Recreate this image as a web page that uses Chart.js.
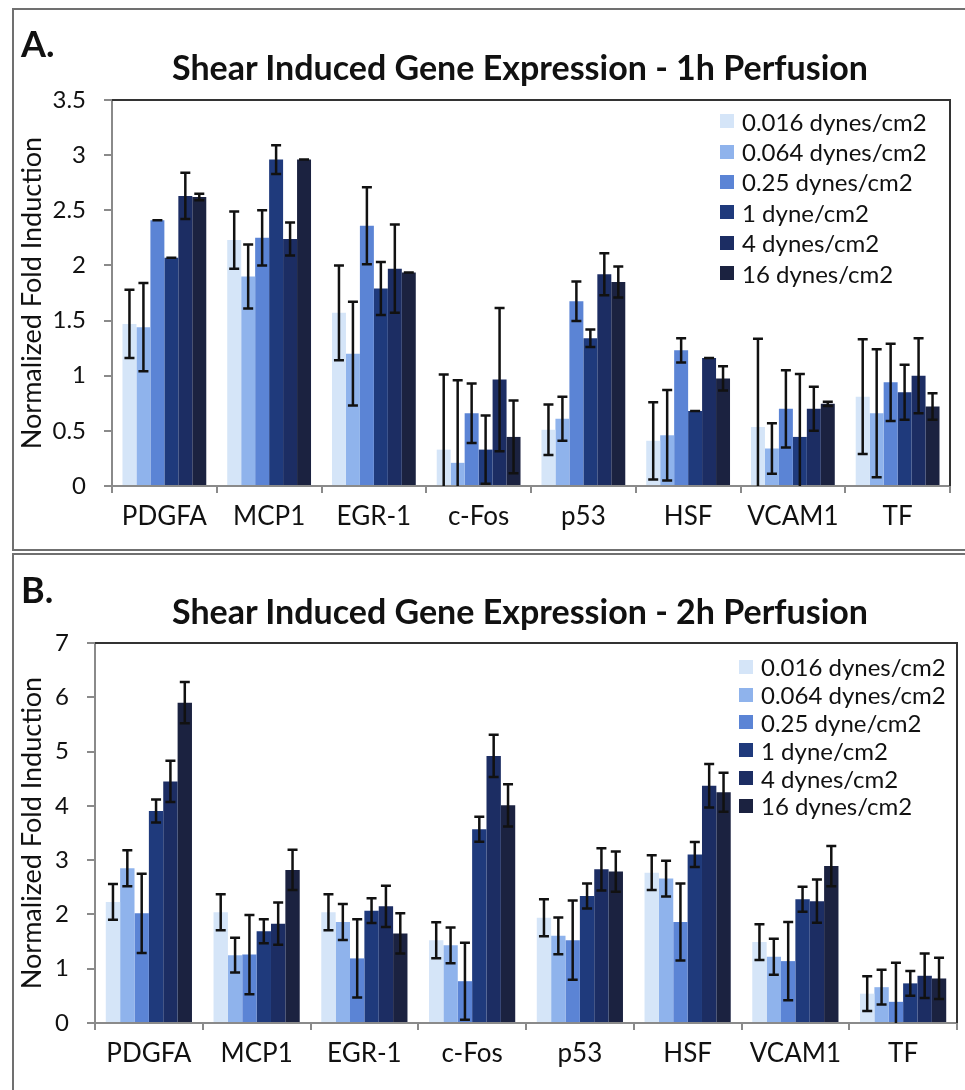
<!DOCTYPE html>
<html>
<head>
<meta charset="utf-8">
<script src="https://cdn.jsdelivr.net/npm/chart.js@4"></script>
<style>
  body { margin: 0; background: #fff; width: 965px; height: 1090px; overflow: hidden; position: relative; font-family: Lato, sans-serif; color: #111; }
  .panel { position: absolute; left: 12px; width: 960px; border: 2px solid #707070; box-sizing: border-box; }
  #panelA { top: 8px; height: 543px; }
  #panelB { top: 553px; height: 545px; }
  .panel canvas { position: absolute; left: 0; top: 0; }
  .tag { position: absolute; font-weight: bold; font-size: 36px; line-height: 1; }
  .title { position: absolute; font-weight: bold; font-size: 34px; line-height: 1; white-space: nowrap; text-align: center; }
  .legend { position: absolute; font-size: 24px; }
  .legend .row { display: flex; align-items: center; white-space: nowrap; }
  .legend .sw { width: 14px; height: 14px; margin-right: 8px; flex: none; }
</style>
</head>
<body>
<div class="panel" id="panelA"><canvas id="chartA" width="951" height="539"></canvas></div>
<div class="panel" id="panelB"><canvas id="chartB" width="951" height="535"></canvas></div>
<div class="tag" style="left:21px;top:25px">A.</div>
<div class="title" style="left:120px;width:800px;top:50px">Shear Induced Gene Expression - 1h Perfusion</div>
<div class="tag" style="left:21px;top:571px">B.</div>
<div class="title" style="left:120px;width:800px;top:594px">Shear Induced Gene Expression - 2h Perfusion</div>
<div class="legend" id="legendA" style="left:720px;top:106px"></div>
<div class="legend" id="legendB" style="left:739px;top:653px"></div>

<script>
// genes on the x axis
const genes = ['PDGFA', 'MCP1', 'EGR-1', 'c-Fos', 'p53', 'HSF', 'VCAM1', 'TF'];

// shear stress levels (legend labels)
const labels1h = ['0.016 dynes/cm2', '0.064 dynes/cm2', '0.25 dynes/cm2', '1 dyne/cm2', '4 dynes/cm2', '16 dynes/cm2'];
const labels2h = ['0.016 dynes/cm2', '0.064 dynes/cm2', '0.25 dyne/cm2', '1 dyne/cm2', '4 dynes/cm2', '16 dynes/cm2'];

// 1h perfusion - mean fold induction
const h1_0016 = [1.47, 2.23, 1.57, 0.33, 0.51, 0.41, 0.535, 0.81];
const h1_0064 = [1.44, 1.90, 1.20, 0.21, 0.61, 0.46, 0.34, 0.66];
const h1_025  = [2.41, 2.25, 2.36, 0.66, 1.675, 1.23, 0.70, 0.94];
const h1_1    = [2.07, 2.96, 1.79, 0.33, 1.34, 0.68, 0.445, 0.85];
const h1_4    = [2.63, 2.24, 1.97, 0.965, 1.92, 1.16, 0.70, 1.00];
const h1_16   = [2.62, 2.96, 1.935, 0.445, 1.85, 0.975, 0.745, 0.72];
// 1h perfusion - error
const h1_0016_err = [0.31, 0.26, 0.43, 0.68, 0.23, 0.35, 0.80, 0.52];
const h1_0064_err = [0.40, 0.29, 0.47, 0.75, 0.20, 0.41, 0.23, 0.58];
const h1_025_err  = [0.00, 0.25, 0.35, 0.27, 0.18, 0.11, 0.35, 0.35];
const h1_1_err    = [0.00, 0.13, 0.24, 0.31, 0.08, 0.00, 0.57, 0.25];
const h1_4_err    = [0.21, 0.15, 0.40, 0.65, 0.19, 0.00, 0.20, 0.34];
const h1_16_err   = [0.03, 0.00, 0.00, 0.33, 0.14, 0.11, 0.02, 0.12];

// 2h perfusion - mean fold induction
const h2_0016 = [2.23, 2.04, 2.04, 1.525, 1.94, 2.77, 1.49, 0.54];
const h2_0064 = [2.85, 1.25, 1.86, 1.43, 1.605, 2.66, 1.22, 0.66];
const h2_025  = [2.02, 1.26, 1.19, 0.77, 1.525, 1.86, 1.14, 0.39];
const h2_1    = [3.905, 1.69, 2.07, 3.57, 2.34, 3.105, 2.28, 0.73];
const h2_4    = [4.45, 1.83, 2.15, 4.92, 2.83, 4.37, 2.245, 0.87];
const h2_16   = [5.90, 2.82, 1.65, 4.01, 2.79, 4.25, 2.89, 0.82];
// 2h perfusion - error
const h2_0016_err = [0.33, 0.33, 0.33, 0.33, 0.34, 0.32, 0.33, 0.32];
const h2_0064_err = [0.33, 0.32, 0.33, 0.33, 0.34, 0.33, 0.33, 0.32];
const h2_025_err  = [0.73, 0.73, 0.72, 0.71, 0.73, 0.71, 0.72, 0.72];
const h2_1_err    = [0.21, 0.22, 0.23, 0.23, 0.23, 0.23, 0.23, 0.23];
const h2_4_err    = [0.38, 0.39, 0.38, 0.39, 0.39, 0.40, 0.40, 0.41];
const h2_16_err   = [0.38, 0.37, 0.37, 0.39, 0.37, 0.36, 0.37, 0.38];

const barColors = ['#d5e5f8', '#8fb3ec', '#5b84d5', '#1f3a7c', '#1c2d63', '#1b2240'];
const axisGray = '#8a8a8a';

// draws the error bars on top of each bar
const errorBars = {
    id: 'errorBars',
    afterDatasetsDraw(chart) {
        const ctx = chart.ctx;
        const y = chart.scales.y;
        ctx.save();
        ctx.strokeStyle = '#111';
        ctx.lineWidth = 2.5;
        chart.data.datasets.forEach((ds, i) => {
            chart.getDatasetMeta(i).data.forEach((bar, j) => {
                const v = ds.data[j], e = ds.errors[j];
                const top = y.getPixelForValue(v + e);
                const low = v - e;
                const bot = y.getPixelForValue(Math.max(low, 0));
                ctx.beginPath();
                ctx.moveTo(bar.x, top); ctx.lineTo(bar.x, bot);
                ctx.moveTo(bar.x - 5, top); ctx.lineTo(bar.x + 5, top);
                if (low > 0) { ctx.moveTo(bar.x - 5, bot); ctx.lineTo(bar.x + 5, bot); }
                ctx.stroke();
            });
        });
        ctx.restore();
    }
};

// top and right edges of the plot box
const plotFrame = {
    id: 'plotFrame',
    afterDraw(chart) {
        const a = chart.chartArea, ctx = chart.ctx;
        ctx.save();
        ctx.strokeStyle = '#333';
        ctx.lineWidth = 2;
        ctx.beginPath();
        ctx.moveTo(a.left, a.top); ctx.lineTo(a.right, a.top); ctx.lineTo(a.right, a.bottom);
        ctx.stroke();
        ctx.restore();
    }
};

function buildLegend(id, labels, rowH) {
    const box = document.getElementById(id);
    labels.forEach((l, i) => {
        const row = document.createElement('div');
        row.className = 'row';
        row.style.height = rowH + 'px';
        row.innerHTML = '<span class="sw" style="background:' + barColors[i] + '"></span>' + l;
        box.appendChild(row);
    });
}

function drawChart(canvasId, labels, series, errors, yMax, step, geo) {
    const datasets = series.map((s, i) => ({
        label: labels[i],
        data: s,
        errors: errors[i],
        backgroundColor: barColors[i],
        borderWidth: 0,
        barPercentage: 1.0,
        categoryPercentage: 0.8
    }));
    const ctx = document.getElementById(canvasId).getContext('2d');
    return new Chart(ctx, {
        type: 'bar',
        data: { labels: genes, datasets: datasets },
        plugins: [errorBars, plotFrame],
        options: {
            responsive: false,
            animation: false,
            layout: { padding: { left: 0, right: geo.right, top: geo.top, bottom: 0 } },
            plugins: { legend: { display: false }, tooltip: { enabled: false } },
            scales: {
                x: {
                    grid: { offset: true, drawOnChartArea: false, tickLength: 7, color: axisGray, lineWidth: 2 },
                    border: { color: axisGray, width: 2 },
                    ticks: { color: '#111', font: { family: 'Lato', size: 26 }, padding: 8 },
                    afterFit: s => { s.height = geo.xh; }
                },
                y: {
                    min: 0, max: yMax,
                    ticks: { stepSize: step, color: '#111', font: { family: 'Lato', size: 24 }, padding: 18, callback: v => v },
                    grid: { drawOnChartArea: false, tickLength: 8, color: axisGray, lineWidth: 2 },
                    border: { color: axisGray, width: 2 },
                    title: { display: true, text: 'Normalized Fold Induction', color: '#111', font: { family: 'Lato', size: 27 }, padding: { top: 2, bottom: 0 } },
                    afterFit: s => { s.width = geo.yw; }
                }
            }
        }
    });
}

buildLegend('legendA', labels1h, 30.4);
buildLegend('legendB', labels2h, 27.8);

drawChart('chartA', labels1h,
    [h1_0016, h1_0064, h1_025, h1_1, h1_4, h1_16],
    [h1_0016_err, h1_0064_err, h1_025_err, h1_1_err, h1_4_err, h1_16_err],
    3.5, 0.5, { top: 90, right: 15, xh: 63, yw: 98 });

drawChart('chartB', labels2h,
    [h2_0016, h2_0064, h2_025, h2_1, h2_4, h2_16],
    [h2_0016_err, h2_0064_err, h2_025_err, h2_1_err, h2_4_err, h2_16_err],
    7, 1, { top: 88, right: 8, xh: 67, yw: 81 });
</script>
</body>
</html>
